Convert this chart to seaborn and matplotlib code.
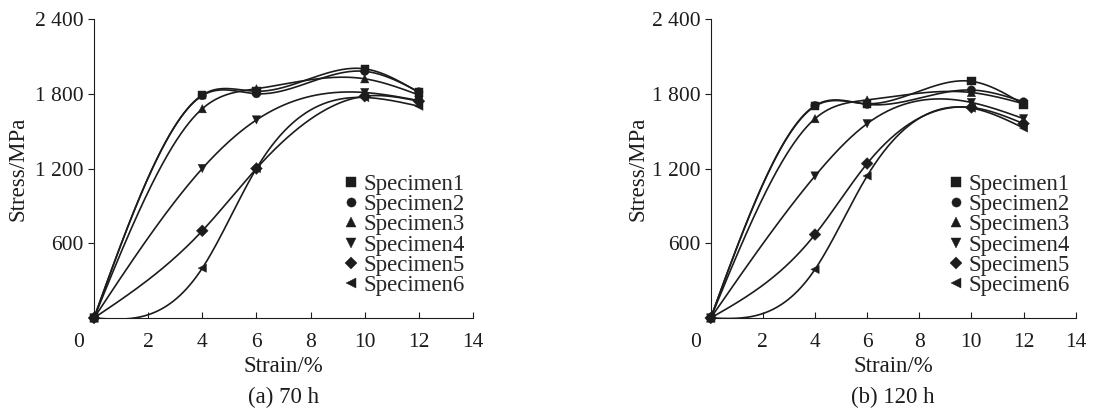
import numpy as np
import pandas as pd
import matplotlib
matplotlib.use("Agg")
import matplotlib.pyplot as plt
import seaborn as sns

# data
strain = [0, 4, 6, 10, 12]
specimens = ["Specimen1", "Specimen2", "Specimen3", "Specimen4", "Specimen5", "Specimen6"]

stress_70h = [
    [0, 1790, 1820, 2000, 1810],
    [0, 1785, 1800, 1980, 1815],
    [0, 1680, 1840, 1920, 1790],
    [0, 1200, 1590, 1810, 1745],
    [0, 700, 1200, 1780, 1740],
    [0, 400, 1200, 1770, 1700],
]
stress_120h = [
    [0, 1700, 1720, 1900, 1715],
    [0, 1705, 1715, 1830, 1735],
    [0, 1600, 1750, 1810, 1720],
    [0, 1140, 1560, 1730, 1600],
    [0, 670, 1240, 1690, 1560],
    [0, 390, 1140, 1685, 1525],
]
captions = ["(a) 70 h", "(b) 120 h"]

markers = {"Specimen1": "s", "Specimen2": "o", "Specimen3": "^",
           "Specimen4": "v", "Specimen5": "D", "Specimen6": "<"}
ink = "#1c1c1c"


def natural_spline(x, y, n=300):
    # smooth curve through the points (like the "smoothed line" option)
    x = np.asarray(x, float)
    y = np.asarray(y, float)
    k = len(x)
    h = np.diff(x)
    A = np.zeros((k, k))
    b = np.zeros(k)
    A[0, 0] = A[-1, -1] = 1
    for i in range(1, k - 1):
        A[i, i - 1] = h[i - 1]
        A[i, i] = 2 * (h[i - 1] + h[i])
        A[i, i + 1] = h[i]
        b[i] = 6 * ((y[i + 1] - y[i]) / h[i] - (y[i] - y[i - 1]) / h[i - 1])
    M = np.linalg.solve(A, b)
    xs = np.linspace(x[0], x[-1], n)
    idx = np.clip(np.searchsorted(x, xs) - 1, 0, k - 2)
    x0, x1 = x[idx], x[idx + 1]
    hh = x1 - x0
    t0, t1 = x1 - xs, xs - x0
    ys = (M[idx] * t0 ** 3 + M[idx + 1] * t1 ** 3) / (6 * hh) \
        + (y[idx] / hh - M[idx] * hh / 6) * t0 \
        + (y[idx + 1] / hh - M[idx + 1] * hh / 6) * t1
    return xs, ys


sns.set_style("ticks")
plt.rcParams["font.family"] = ["Liberation Serif", "DejaVu Serif"]

fig = plt.figure(figsize=(11.05, 4.17), dpi=100)
W, H = 1105, 417
boxes = [(94, 473), (710.7, 1075.7)]
ylabel_x = [18, 638.3]
legend_x = [0.653, 0.646]
top_px, bot_px = 19, 318
fs = 15.5
fs_lab = 16.5

for (x0, x1), lx, legx, stress, cap in zip(boxes, ylabel_x, legend_x,
                                           [stress_70h, stress_120h], captions):
    ax = fig.add_axes([x0 / W, (H - bot_px) / H, (x1 - x0) / W, (bot_px - top_px) / H])

    pts = pd.DataFrame([
        {"specimen": s, "strain": e, "stress": v}
        for s, vals in zip(specimens, stress) for e, v in zip(strain, vals)
    ])
    curves = []
    for s, vals in zip(specimens, stress):
        xs, ys = natural_spline(strain, vals)
        curves.append(pd.DataFrame({"specimen": s, "strain": xs, "stress": ys}))
    curves = pd.concat(curves)

    sns.lineplot(data=curves, x="strain", y="stress", units="specimen",
                 estimator=None, sort=False, color=ink, lw=1.2, ax=ax, legend=False)
    sns.scatterplot(data=pts, x="strain", y="stress", style="specimen",
                    markers=markers, color=ink, s=36, edgecolor=ink, linewidth=0.3,
                    ax=ax, clip_on=False, zorder=3)

    ax.set_xlim(0, 14)
    ax.set_ylim(0, 2400)
    ax.set_xticks([2, 4, 6, 8, 10, 12, 14])
    ax.set_xticklabels(["2", "4", "6", "8", "10", "12", "14"])
    ax.set_yticks([600, 1200, 1800, 2400])
    ax.set_yticklabels(["600", "1 200", "1 800", "2 400"])
    ax.tick_params(axis="x", direction="in", length=4.3, width=0.8, pad=10.5,
                   labelsize=fs, colors=ink)
    ax.tick_params(axis="y", direction="out", length=4.3, width=0.8, pad=3,
                   labelsize=fs, colors=ink)
    ax.annotate("0", xy=(0, 0), xytext=(-10.8, -10.5), textcoords="offset points",
                ha="center", va="top", fontsize=fs, color=ink)
    sns.despine(ax=ax)
    for sp in ["left", "bottom"]:
        ax.spines[sp].set_linewidth(0.8)
        ax.spines[sp].set_color(ink)

    ax.set_xlabel("Strain/%", fontsize=fs_lab, color=ink, va="center")
    ax.set_ylabel("Stress/MPa", fontsize=fs_lab, color=ink, va="center")
    ax.xaxis.set_label_coords(0.5, (bot_px - 367) / (bot_px - top_px))
    ax.yaxis.set_label_coords((lx - x0) / (x1 - x0), 0.5)
    ax.text(0.5, (bot_px - 397) / (bot_px - top_px), cap, transform=ax.transAxes,
            ha="center", va="center", fontsize=fs_lab, color=ink)

    ax.legend(loc="upper left", bbox_to_anchor=(legx, 0.483),
              frameon=False, fontsize=fs_lab, handlelength=0.8, handletextpad=0.15,
              borderpad=0, borderaxespad=0, labelspacing=-0.03, markerscale=1.1)

fig.savefig("out.png", dpi=100)
